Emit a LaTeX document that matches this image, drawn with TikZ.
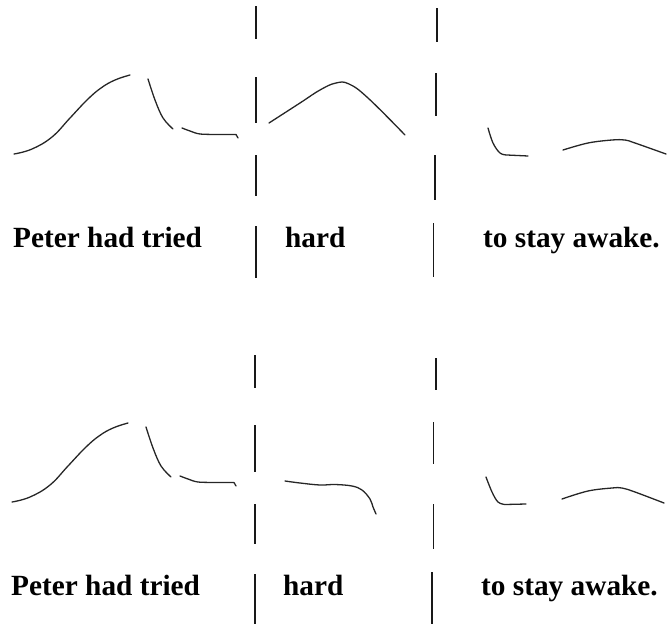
\documentclass[tikz,border=0pt]{standalone}
\usepackage{fontspec}
\setmainfont{Liberation Serif}
\begin{document}
\begin{tikzpicture}[x=1pt,y=-1pt,
  contour/.style={line width=1.3pt,draw=black!85,line cap=round,line join=round},
  divider/.style={line width=1.6pt,draw=black!90},
  word/.style={anchor=base west,inner sep=0pt,font=\fontsize{29.3}{32}\selectfont\bfseries}]
\useasboundingbox (0,0) rectangle (669,624);

% ---------- upper panel ----------
% pitch contours
\draw[contour] plot[smooth,tension=0.7] coordinates
  {(14,154) (32,149) (52,137) (70,118) (87,100) (101,88) (115,80) (130,75)};
\draw[contour] plot[smooth,tension=0.6] coordinates
  {(148,79) (155,100) (163,118) (173,129)};
\draw[contour] plot[smooth,tension=0.5] coordinates
  {(182,128) (190,131) (200,134) (220,134.5) (236,134.5)} -- (238,138);
\draw[contour] plot[smooth,tension=0.7] coordinates
  {(269,123) (300,103) (320,90) (336,83) (349,84) (368,98) (405,135)};
\draw[contour] plot[smooth,tension=0.6] coordinates
  {(488,128) (493,143) (500,153) (507,155)} -- (528,156);
\draw[contour] plot[smooth,tension=0.6] coordinates
  {(563,150) (588,143) (612,140) (625,140) (635,143) (666,154)};
% phrase boundaries
\draw[divider] (256,6) -- (256,39) (256,77) -- (256,123)
  (256,155) -- (256,196) (256,226) -- (256,278);
\draw[divider] (437,8) -- (437,42) (435.7,73) -- (435.7,116)
  (435,155) -- (435,200) (433.3,223) -- (433.3,277);
% words
\node[word] (t1) at (13,247) {Peter had tried};
\node[word] (t2) at (285,247) {hard};
\node[word] (t3) at (483,247) {to stay awake.};

% ---------- lower panel ----------
\begin{scope}[shift={(-2,348)}]
\draw[contour] plot[smooth,tension=0.7] coordinates
  {(14,154) (32,149) (52,137) (70,118) (87,100) (101,88) (115,80) (130,75)};
\draw[contour] plot[smooth,tension=0.6] coordinates
  {(148,79) (155,100) (163,118) (173,129)};
\draw[contour] plot[smooth,tension=0.5] coordinates
  {(182,128) (190,131) (200,134) (220,134.5) (236,134.5)} -- (238,138);
\end{scope}
\draw[contour] plot[smooth,tension=0.6] coordinates
  {(285,481) (300,483) (320,485) (335,484.5) (352,486) (362,490) (370,499) (373,507) (376,514)};
\draw[contour] plot[smooth,tension=0.6] coordinates
  {(486,477) (492,492) (498,502) (505,504.5)} -- (526,504);
\draw[contour] plot[smooth,tension=0.6] coordinates
  {(562,499) (588,491) (612,488) (622,488) (635,492) (664,503)};
% phrase boundaries
\draw[divider] (255,355) -- (255,388) (255,425) -- (255,472)
  (255,504) -- (255,544) (255,574) -- (255,624);
\draw[divider] (435.7,358) -- (435.7,390) (433.3,422) -- (433.3,464)
  (433.3,504) -- (433.3,549) (431.7,572) -- (431.7,624);
% words
\node[word] (b1) at (11,595) {Peter had tried};
\node[word] (b2) at (283,595) {hard};
\node[word] (b3) at (481,595) {to stay awake.};
\end{tikzpicture}
\end{document}
